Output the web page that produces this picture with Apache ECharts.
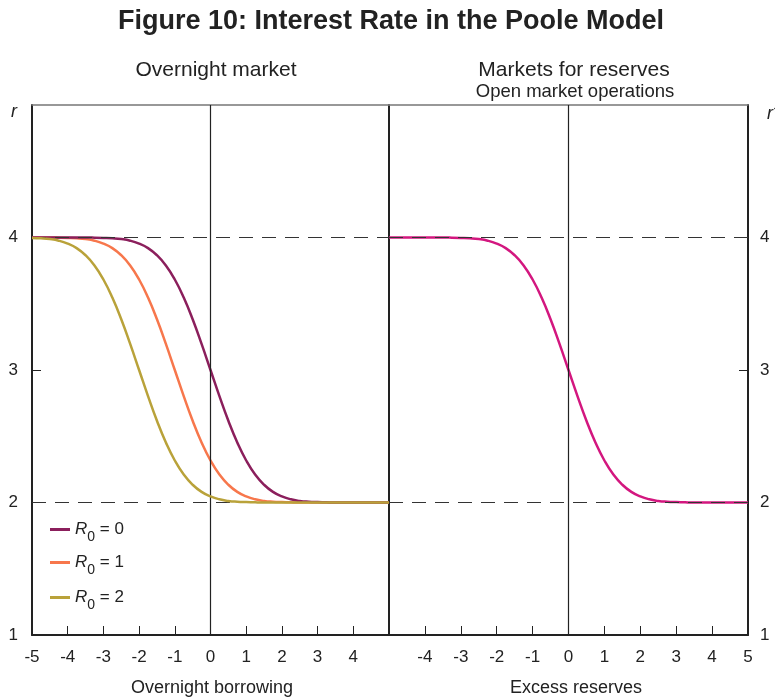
<!DOCTYPE html>
<html><head><meta charset="utf-8">
<script src="https://cdn.jsdelivr.net/npm/echarts@6/dist/echarts.min.js"></script>
<style>html,body{margin:0;padding:0;background:#fff}#c{width:775px;height:697px}</style>
</head><body><div id="c"></div>
<script>
// x positions (units) for all curves
const xs = [-5,-4.75,-4.5,-4.25,-4,-3.75,-3.5,-3.25,-3,-2.75,-2.5,-2.25,-2,-1.75,-1.5,-1.25,-1,-0.75,-0.5,-0.25,0,0.25,0.5,0.75,1,1.25,1.5,1.75,2,2.25,2.5,2.75,3,3.25,3.5,3.75,4,4.25,4.5,4.75,5];
// Overnight market, R0 = 0
const r0_0 = [4.000,4.000,4.000,4.000,4.000,4.000,4.000,3.999,3.997,3.994,3.988,3.976,3.954,3.920,3.866,3.789,3.683,3.547,3.383,3.197,3.000,2.803,2.617,2.453,2.317,2.211,2.134,2.080,2.046,2.024,2.012,2.006,2.003,2.001,2.000,2.000,2.000,2.000,2.000,2.000,2.000];
// Overnight market, R0 = 1
const r0_1 = [4.000,4.000,4.000,3.999,3.997,3.994,3.988,3.976,3.954,3.920,3.866,3.789,3.683,3.547,3.383,3.197,3.000,2.803,2.617,2.453,2.317,2.211,2.134,2.080,2.046,2.024,2.012,2.006,2.003,2.001,2.000,2.000,2.000,2.000,2.000,2.000,2.000,2.000,2.000,2.000,2.000];
// Overnight market, R0 = 2
const r0_2 = [3.997,3.994,3.988,3.976,3.954,3.920,3.866,3.789,3.683,3.547,3.383,3.197,3.000,2.803,2.617,2.453,2.317,2.211,2.134,2.080,2.046,2.024,2.012,2.006,2.003,2.001,2.000,2.000,2.000,2.000,2.000,2.000,2.000,2.000,2.000,2.000,2.000,2.000,2.000,2.000,2.000];
// Markets for reserves (open market operations)
const reserves = [4.000,4.000,4.000,4.000,4.000,4.000,4.000,3.999,3.997,3.994,3.988,3.976,3.954,3.920,3.866,3.789,3.683,3.547,3.383,3.197,3.000,2.803,2.617,2.453,2.317,2.211,2.134,2.080,2.046,2.024,2.012,2.006,2.003,2.001,2.000,2.000,2.000,2.000,2.000,2.000,2.000];
const yTicks = [1,2,3,4];
const guideLevels = [4,2];
const names = ['R0 = 0','R0 = 1','R0 = 2'];

const FONT = '"Liberation Sans", Arial, sans-serif';
const pair = arr => xs.map((x,i)=>[x,arr[i]]);
const dashLines = guideLevels.map(v=>({yAxis:v, lineStyle:{type:[14,9], color:'#333', width:1.2}}));
const zeroLine = {xAxis:0, lineStyle:{type:'solid', color:'#222', width:1.2}};
const ml = {silent:true, symbol:'none', label:{show:false}, data:[...dashLines, zeroLine]};

const rich = {
  i:{fontFamily:FONT, fontStyle:'italic', fontSize:17, color:'#222'},
  s:{fontFamily:FONT, fontSize:14, color:'#222', verticalAlign:'bottom', padding:[16,0,0,0]},
  t:{fontFamily:FONT, fontSize:17, color:'#222'}
};
const fmt = n => { const v = n.split('= ')[1]; return '{i|R}{s|0}{t| = ' + v + '}'; };
const legendAt = (name, top) => ({
  data:[name], left:45, top:top, orient:'vertical', itemWidth:20, itemHeight:3, icon:'rect',
  itemGap:0, selectedMode:false, formatter:fmt, textStyle:{rich:rich, fontFamily:FONT}
});

const xBase = (gi, pos, minLbl, maxLbl, show) => ({
  gridIndex:gi, type:'value', min:-5, max:5, interval:1, position:pos,
  axisLine:{show:true, onZero:false, lineStyle:{color: pos==='top' ? '#777' : '#222', width: pos==='top' ? 1.5 : 2}},
  axisTick:{show:show, inside:true, length:9, lineStyle:{color:'#222', width:1}},
  axisLabel:{show:show, showMinLabel:minLbl, showMaxLabel:maxLbl, fontFamily:FONT, fontSize:17, color:'#222', margin:14},
  splitLine:{show:false}
});
const tt = (text, left, top, size, extra) => Object.assign({text, left, top, textAlign:'center',
  textStyle:{fontFamily:FONT, fontWeight:'normal', fontSize:size, color:'#222'}}, extra||{});

const option = {
  backgroundColor:'#fff',
  animation:false,
  title:[
    {text:'Figure 10: Interest Rate in the Poole Model', left:386, textAlign:'center', top:3,
      textStyle:{fontFamily:FONT, fontWeight:'bold', fontSize:27, color:'#222'}},
    tt('Overnight market', 211, 55, 21),
    tt('Markets for reserves', 569, 55, 21),
    tt('Open market operations', 570, 77, 18.5),
    {text:'r', left:6, top:98, textStyle:{fontFamily:FONT, fontStyle:'italic', fontWeight:'normal', fontSize:18, color:'#222'}},
    {text:'r*', left:762, top:100, textStyle:{fontFamily:FONT, fontStyle:'italic', fontWeight:'normal', fontSize:18, color:'#222'}},
    tt('Overnight borrowing', 207, 674, 18),
    tt('Excess reserves', 571, 674, 18)
  ],
  legend:[legendAt(names[0],516), legendAt(names[1],549), legendAt(names[2],584)],
  grid:[
    {left:32, width:357, top:105, height:530},
    {left:389, width:359, top:105, height:530}
  ],
  xAxis:[
    xBase(0,'bottom',true,false,true),
    xBase(1,'bottom',false,true,true),
    xBase(0,'top',true,true,false),
    xBase(1,'top',true,true,false)
  ],
  yAxis:[
    {gridIndex:0, type:'value', min:1, max:5, interval:1, position:'left',
      axisLine:{show:true, onZero:false, lineStyle:{color:'#222', width:2}},
      axisTick:{show:true, inside:true, length:9, lineStyle:{color:'#222'}},
      axisLabel:{showMaxLabel:false, fontFamily:FONT, fontSize:17, color:'#222', margin:14,
        formatter:v=>yTicks.includes(v)?String(v):''},
      splitLine:{show:false}},
    {gridIndex:1, type:'value', min:1, max:5, interval:1, position:'left',
      axisLine:{show:true, onZero:false, lineStyle:{color:'#222', width:2}},
      axisTick:{show:false}, axisLabel:{show:false}, splitLine:{show:false}},
    {gridIndex:1, type:'value', min:1, max:5, interval:1, position:'right',
      axisLine:{show:true, onZero:false, lineStyle:{color:'#222', width:2}},
      axisTick:{show:true, inside:true, length:9, lineStyle:{color:'#222'}},
      axisLabel:{showMaxLabel:false, fontFamily:FONT, fontSize:17, color:'#222', margin:12,
        formatter:v=>yTicks.includes(v)?String(v):''},
      splitLine:{show:false}}
  ],
  series:[
    {name:names[0], type:'line', xAxisIndex:0, yAxisIndex:0, data:pair(r0_0), smooth:0.5,
      showSymbol:false, color:'#8B1F5C', lineStyle:{width:2.5, color:'#8B1F5C'}, markLine:ml, z:4},
    {name:names[1], type:'line', xAxisIndex:0, yAxisIndex:0, data:pair(r0_1), smooth:0.5,
      showSymbol:false, color:'#F7774C', lineStyle:{width:2.5, color:'#F7774C'}, z:3},
    {name:names[2], type:'line', xAxisIndex:0, yAxisIndex:0, data:pair(r0_2), smooth:0.5,
      showSymbol:false, color:'#B9A23A', lineStyle:{width:2.5, color:'#B9A23A'}, z:5},
    {name:'Reserves', type:'line', xAxisIndex:1, yAxisIndex:2, data:pair(reserves), smooth:0.5,
      showSymbol:false, color:'#D3177F', lineStyle:{width:2.5, color:'#D3177F'}, markLine:ml, z:4}
  ]
};
echarts.init(document.getElementById('c'), null, {renderer:'canvas'}).setOption(option);
</script>
</body></html>
